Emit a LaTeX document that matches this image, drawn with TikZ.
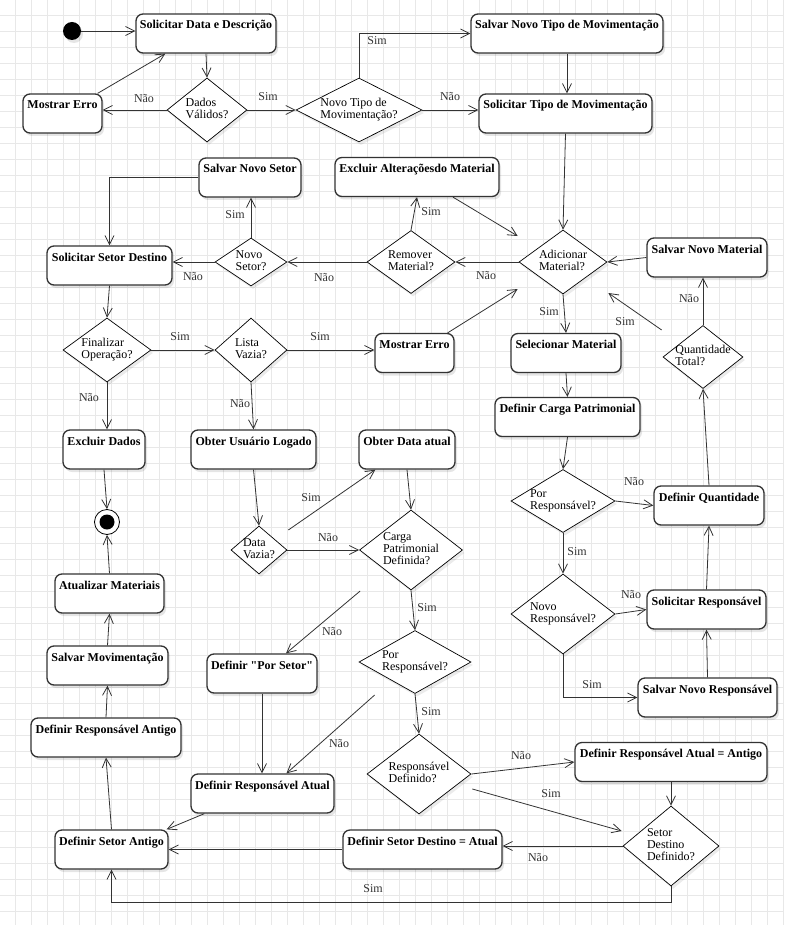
\documentclass[tikz,border=0pt]{standalone}
\usepackage{fontspec}
\setmainfont{Liberation Serif}[Ligatures=TeXOff]
\usetikzlibrary{arrows.meta,shapes.geometric,shadows,calc}
\definecolor{linegray}{HTML}{333333}
\definecolor{gridgray}{HTML}{E8E8E8}
\newcommand{\qlines}[1]{\smash{\makebox[0pt]{\raisebox{-3pt}{\begin{tabular}{@{}l@{}}#1\end{tabular}}}}}
\tikzset{
    %Define standard arrow tip
    >={Straight Barb[length=9pt,width=9pt]},
    %Define style for action boxes
    action/.style={
           rectangle,
           rounded corners=7pt,
           draw=linegray, line width=1.3pt,
           fill=white,
           minimum width=#1,
           text height=11pt,
           text depth=20pt,
           inner ysep=4pt,
           inner xsep=0pt,
           font=\fontsize{12}{12}\selectfont\bfseries,
           drop shadow={shadow xshift=2pt,shadow yshift=-3pt,opacity=0.1,fill=black}},
    %Define style for decisions
    decision/.style 2 args={
           diamond,
           draw=black, line width=0.7pt,
           fill=white,
           minimum width=#1,
           minimum height=#2,
           inner sep=0pt,
           font=\fontsize{12}{12}\selectfont,
           drop shadow={shadow xshift=2pt,shadow yshift=-3pt,opacity=0.08,fill=black}},
    startdot/.style={
           circle, fill=black, minimum size=18pt, inner sep=0pt,
           drop shadow={shadow xshift=2pt,shadow yshift=-3pt,opacity=0.1,fill=black}},
    enddot/.style={
           circle, draw=black, line width=0.8pt, fill=white, minimum size=25pt, inner sep=0pt},
    annote/.style={
          font=\fontsize{12}{12}\selectfont, text=linegray
    },
    gridline/.style={draw=gridgray, line width=0.6pt},
    % Define arrow style
    arrow/.style={
           ->,
           draw=linegray,
           line width=0.8pt},
}
\begin{document}
\begin{tikzpicture}[x=1pt,y=-1pt]
\useasboundingbox (0,0) rectangle (784,925);
\fill[white] (0,0) rectangle (784,925);
\foreach \i in {0,...,48} \draw[gridline] ({15.5+16*\i},0) -- ++(0,925);
\foreach \j in {0,...,57} \draw[gridline] (0,{15.5+16*\j}) -- ++(784,0);

\node[startdot]                  (start)       at (72,31)      {};
\node[action=140pt]              (dataDesc)    at (206,33.5)   {Solicitar Data e Descrição};
\node[decision={80pt}{64pt}]     (dvalid)      at (207,110)    {\qlines{Dados\\Válidos?}};
\node[action=79pt]               (erro)        at (62.5,113.5) {Mostrar Erro};
\node[decision={126pt}{64pt}]    (novoTipo)    at (359,110)    {\qlines{Novo Tipo de\\Movimentação?}};
\node[action=192pt]              (salvarTipo)  at (567,33.5)   {Salvar Novo Tipo de Movimentação};
\node[action=173pt]              (solTipo)     at (565.5,113.5){Solicitar Tipo de Movimentação};
\node[action=164pt]              (exclAlt)     at (417,177)    {Excluir Alteraçõesdo Material};
\node[action=102pt]              (salvarSetor) at (250,177.5)  {Salvar Novo Setor};
\node[action=125pt]              (setorDest)   at (109.5,265.5){Solicitar Setor Destino};
\node[decision={72pt}{48pt}]     (novoSetor)   at (251,262)    {\qlines{Novo\\Setor?}};
\node[decision={88pt}{63pt}]     (remover)     at (411,262)    {\qlines{Remover\\Material?}};
\node[decision={88pt}{64pt}]     (adicionar)   at (563,262)    {\qlines{Adicionar\\Material?}};
\node[action=120pt]              (salvarMat)   at (707,257.5)  {Salvar Novo Material};
\node[decision={80pt}{63pt}]     (qtdTotal)    at (703,357)    {\qlines{Quantidade\\Total?}};
\node[action=110pt]              (selMat)      at (566,353)    {Selecionar Material};
\node[action=145pt]              (defCarga)    at (567.5,417)  {Definir Carga Patrimonial};
\node[decision={104pt}{63pt}]    (porResp)     at (563,501)    {\qlines{Por\\Responsável?}};
\node[action=110pt]              (defQtd)      at (709,505.5)  {Definir Quantidade};
\node[decision={104pt}{80pt}]    (novoResp)    at (563,614)    {\qlines{Novo\\Responsável?}};
\node[action=119pt]              (solResp)     at (706.5,609.5){Solicitar Responsável};
\node[action=139pt]              (salvarResp)  at (707.5,697.5){Salvar Novo Responsável};
\node[decision={88pt}{64pt}]     (finalizar)   at (107,350)    {\qlines{Finalizar\\Operação?}};
\node[decision={72pt}{64pt}]     (listaVazia)  at (251,350)    {\qlines{Lista\\Vazia?}};
\node[action=79pt]               (erroLista)   at (414.5,353)  {Mostrar Erro};
\node[action=82pt]               (exclDados)   at (104,449.5)  {Excluir Dados};
\node[enddot]                    (fim)         at (107,522)    {};
\node[circle, fill=black, minimum size=15pt, inner sep=0pt] (fimIn) at (fim) {};
\node[action=125pt]              (usuario)     at (253.5,449.5){Obter Usuário Logado};
\node[action=96pt]               (dataAtual)   at (407,449.5)  {Obter Data atual};
\node[decision={56pt}{48pt}]     (dataVazia)   at (259,550)    {\qlines{Data\\Vazia?}};
\node[decision={103pt}{80pt}]    (cargaDef)    at (411,550)    {\qlines{Carga\\Patrimonial\\Definida?}};
\node[decision={112pt}{63pt}]    (porResp2)    at (415,662)    {\qlines{Por\\Responsável?}};
\node[action=110pt]              (porSetor)    at (262,673.5)  {Definir "Por Setor"};
\node[action=143pt]              (respAtual)   at (262.5,793.5){Definir Responsável Atual};
\node[decision={104pt}{80pt}]    (respDef)     at (419,774)    {\qlines{Responsável\\Definido?}};
\node[action=192pt]              (respIgual)   at (671,762)    {Definir Responsável Atual = Antigo};
\node[decision={96pt}{80pt}]     (setorDef)    at (671,846)    {\qlines{Setor\\Destino\\Definido?}};
\node[action=159pt]              (setorIgual)  at (422.5,849.5){Definir Setor Destino = Atual};
\node[action=113pt]              (setorAntigo) at (111.5,849.5){Definir Setor Antigo};
\node[action=150pt]              (respAntigo)  at (106,737.5)  {Definir Responsável Antigo};
\node[action=121pt]              (salvarMov)   at (107.5,665.5){Salvar Movimentação};
\node[action=109pt]              (atualizar)   at (109.5,593.5){Atualizar Materiais};

\coordinate (toAdd1)     at ($(adicionar.west)+(-1,-26)$);
\coordinate (toAdd2)     at ($(adicionar.west)+(-1,27)$);
\coordinate (toAdd3)     at ($(adicionar.east)+(1,31)$);
\coordinate (fromQtd)    at ($(qtdTotal.west)+(-1,-27)$);
\coordinate (fromVazia)  at ($(dataVazia.east)+(1,-20)$);
\coordinate (fromCarga)  at ($(cargaDef.west)+(1,41)$);
\coordinate (fromPor)    at ($(porResp2.west)+(16,33)$);
\coordinate (fromDef)    at ($(respDef.east)+(1,15)$);
\coordinate (toSetorDef) at ($(setorDef.west)+(-1,-15)$);

\draw[arrow] (start.east) -- (start -| dataDesc.west);
\draw[arrow] (dataDesc.south) -- (dvalid.north);
\draw[arrow] (dvalid.west) -- (dvalid.west -| erro.east) node[annote] at (144,99) {Não};
\draw[arrow] ($(erro.north east)+(-5,0)$) -- ($(dataDesc.south west)+(30,0)$);
\draw[arrow] (dvalid.east) -- (novoTipo.west) node[annote] at (268,97) {Sim};
\draw[arrow] (novoTipo.north) |- (salvarTipo.west) node[annote] at (377,41) {Sim};
\draw[arrow] (novoTipo.east) -- (novoTipo.east -| solTipo.west) node[annote] at (450,97) {Não};
\draw[arrow] (salvarTipo.south) -- (salvarTipo.south |- solTipo.north);
\draw[arrow] (solTipo.south) -- (adicionar.north);
\draw[arrow] ($(exclAlt.south)+(36,0)$) -- (toAdd1);
\draw[arrow] (adicionar.west) -- (remover.east) node[annote] at (486,276) {Não};
\draw[arrow] (remover.north) -- (exclAlt.south) node[annote] at (431,212) {Sim};
\draw[arrow] (remover.west) -- (novoSetor.east) node[annote] at (324,278) {Não};
\draw[arrow] (novoSetor.north) -- (novoSetor.north |- salvarSetor.south) node[annote] at (235,215) {Sim};
\draw[arrow] (novoSetor.west) -- (novoSetor.west -| setorDest.east) node[annote] at (193,277) {Não};
\draw[arrow] (salvarSetor.west) -| (setorDest.north);
\draw[arrow] (salvarMat.west) -- (adicionar.east);
\draw[arrow] (qtdTotal.north) -- (qtdTotal.north |- salvarMat.south) node[annote] at (689,299) {Não};
\draw[arrow] (fromQtd) -- (toAdd3) node[annote] at (625,322) {Sim};
\draw[arrow] (adicionar.south) -- (selMat.north) node[annote] at (549,312) {Sim};
\draw[arrow] (selMat.south) -- (defCarga.north);
\draw[arrow] (defCarga.south) -- (porResp.north);
\draw[arrow] (porResp.east) -- (defQtd.west) node[annote] at (634,482) {Não};
\draw[arrow] (porResp.south) -- (novoResp.north) node[annote] at (577,552) {Sim};
\draw[arrow] (novoResp.east) -- (solResp.west) node[annote] at (631,595) {Não};
\draw[arrow] (novoResp.south) |- (salvarResp.west) node[annote] at (592,685) {Sim};
\draw[arrow] (salvarResp.north) -- (solResp.south);
\draw[arrow] (solResp.north) -- (defQtd.south);
\draw[arrow] (defQtd.north) -- (qtdTotal.south);
\draw[arrow] (setorDest.south) -- (finalizar.north);
\draw[arrow] (finalizar.east) -- (listaVazia.west) node[annote] at (180,337) {Sim};
\draw[arrow] (listaVazia.east) -- (listaVazia.east -| erroLista.west) node[annote] at (320,337) {Sim};
\draw[arrow] ($(erroLista.north east)+(-7,0)$) -- (toAdd2);
\draw[arrow] (finalizar.south) -- (finalizar.south |- exclDados.north) node[annote] at (89,398) {Não};
\draw[arrow] (listaVazia.south) -- (usuario.north) node[annote] at (240,404) {Não};
\draw[arrow] (exclDados.south) -- (fim.north);
\draw[arrow] (usuario.south) -- (dataVazia.north);
\draw[arrow] (fromVazia) -- ($(dataAtual.south west)+(17,0)$) node[annote] at (311,498) {Sim};
\draw[arrow] (dataVazia.east) -- (cargaDef.west) node[annote] at (328,538) {Não};
\draw[arrow] (dataAtual.south) -- (cargaDef.north);
\draw[arrow] (cargaDef.south) -- (porResp2.north) node[annote] at (427,608) {Sim};
\draw[arrow] (fromCarga) -- ($(porSetor.north)+(24,0)$) node[annote] at (332,632) {Não};
\draw[arrow] (porSetor.south) -- (porSetor.south |- respAtual.north);
\draw[arrow] (fromPor) -- ($(respAtual.north)+(24,0)$) node[annote] at (339,744) {Não};
\draw[arrow] (porResp2.south) -- (respDef.north) node[annote] at (431,712) {Sim};
\draw[arrow] (respDef.east) -- (respIgual.west) node[annote] at (521,756) {Não};
\draw[arrow] (fromDef) -- (toSetorDef) node[annote] at (551,794) {Sim};
\draw[arrow] (respIgual.south) -- (setorDef.north);
\draw[arrow] (setorDef.west) -- (setorDef.west -| setorIgual.east) node[annote] at (538,858) {Não};
\draw[arrow] (setorDef.south) -- ++(0,16) -| (setorAntigo.south) node[annote] at (373,889) {Sim};
\draw[arrow] (setorIgual.west) -- (setorIgual.west -| setorAntigo.east);
\draw[arrow] ($(respAtual.south west)+(14,0)$) -- ($(setorAntigo.north east)+(-2,0)$);
\draw[arrow] (setorAntigo.north) -- (respAntigo.south);
\draw[arrow] (respAntigo.north) -- (salvarMov.south);
\draw[arrow] (salvarMov.north) -- (atualizar.south);
\draw[arrow] (atualizar.north) -- (fim.south);
\end{tikzpicture}
\end{document}
